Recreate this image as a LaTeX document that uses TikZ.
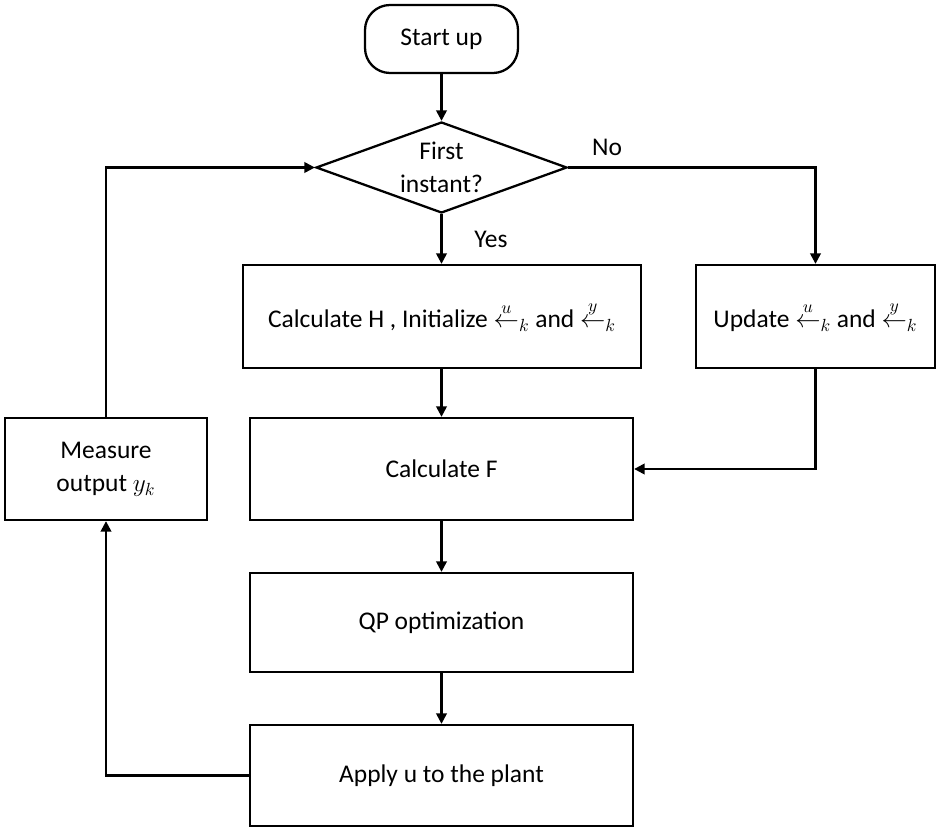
\documentclass[tikz,border=0pt]{standalone}
\usepackage{amsmath}
\usepackage{fontspec}
\setmainfont{Carlito}
\usetikzlibrary{arrows.meta,shapes.geometric,calc}
\begin{document}
\begin{tikzpicture}[x=0.02cm,y=-0.02cm,
  font=\fontsize{14.5}{19}\selectfont,
  every node/.style={align=center},
  box/.style={draw,line width=1.3pt,minimum width=#1*0.02cm,inner sep=0pt},
  term/.style={draw,line width=1.3pt,rounded corners=0.5cm,minimum width=153*0.02cm,minimum height=68*0.02cm},
  dec/.style={draw,line width=1.3pt,diamond,aspect=2.76,minimum width=251*0.02cm,minimum height=91*0.02cm,inner sep=0pt},
  conn/.style={line width=1.3pt,-{Triangle[length=6pt,width=6pt]}},
  lbl/.style={inner sep=1pt}]
\useasboundingbox (0,0) rectangle (937,828);
\node[term] (start) at (441.5,39) {Start up};
\node[dec] (first) at (441.5,167.5) {First\\instant?};
\node[box=398,minimum height=103*0.02cm] (calch) at (442,316.5) {Calculate H , Initialize $\overset{u}{\leftarrow}_{k}$ and $\overset{y}{\leftarrow}_{k}$};
\node[box=239,minimum height=103*0.02cm] (upd) at (815.5,316.5) {Update $\overset{u}{\leftarrow}_{k}$ and $\overset{y}{\leftarrow}_{k}$};
\node[box=202,minimum height=102*0.02cm] (meas) at (106,469) {Measure\\output $y_k$};
\node[box=383,minimum height=102*0.02cm] (calcf) at (441.5,469) {Calculate F};
\node[box=383,minimum height=99*0.02cm] (qp) at (441.5,622.5) {QP optimization};
\node[box=383,minimum height=101*0.02cm] (apply) at (441.5,775.5) {Apply u to the plant};
\node[lbl] (no) at (607,147) {No};
\node[lbl] (yes) at (491,239) {Yes};
\draw[conn] (start) -- (first);
\draw[conn] (first.south) -- (first.south |- calch.north);
\draw[conn] (first.east) -| (upd.north);
\draw[conn] (calch.south -| first.south) -- (calcf.north);
\draw[conn] (upd.south) |- (calcf.east);
\draw[conn] (calcf) -- (qp);
\draw[conn] (qp) -- (apply);
\draw[conn] (apply.west) -| (meas.south);
\draw[conn] (meas.north) |- (first.west);
\end{tikzpicture}
\end{document}
